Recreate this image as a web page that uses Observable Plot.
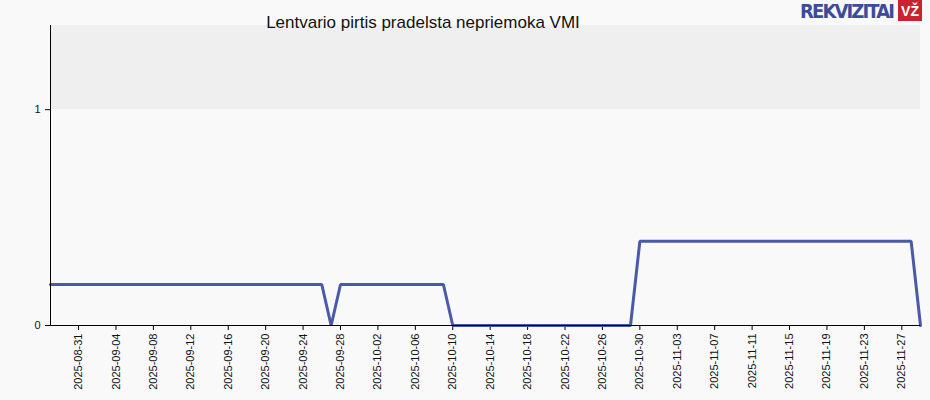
<!DOCTYPE html>
<html>
<head>
<meta charset="utf-8">
<script src="https://cdn.jsdelivr.net/npm/d3@7"></script>
<script src="https://cdn.jsdelivr.net/npm/@observablehq/plot@0.6"></script>
<style>
  html, body { margin: 0; padding: 0; background: #f9f9f9; }
  #wrap { position: relative; width: 930px; height: 400px; font-family: "Liberation Sans", Arial, sans-serif; }
  #title { position: absolute; left: 0; width: 846px; top: 13px; text-align: center; font-size: 17px; color: #111; z-index: 2; white-space: nowrap; }
  #rk { position: absolute; left: 800px; top: 0px; font-family: "Liberation Sans Narrow", "DejaVu Sans Condensed", sans-serif; font-weight: bold; font-size: 20px; line-height: 23px; color: #3b4c9b; white-space: nowrap; z-index: 2; }
  #vz { position: absolute; left: 898px; top: 0px; width: 24px; height: 21px; background: #c8232f; color: #fff; font-weight: bold; font-size: 14px; line-height: 22px; text-align: center; z-index: 2; }
</style>
</head>
<body>
<div id="wrap">
  <div id="title">Lentvario pirtis pradelsta nepriemoka VMI</div>
  <span id="rk">REKVIZITAI</span><span id="vz">VŽ</span>
  <div id="chart"></div>
</div>
<script>
// Data: dates where the line bends, and values
const dates  = ["2025-08-28","2025-09-26","2025-09-27","2025-09-28","2025-10-09","2025-10-10","2025-10-29","2025-10-30","2025-11-28","2025-11-29"];
const values = [0.19, 0.19, 0, 0.19, 0.19, 0, 0, 0.39, 0.39, 0];
const xTickLabels = ["2025-08-31","2025-09-04","2025-09-08","2025-09-12","2025-09-16","2025-09-20","2025-09-24","2025-09-28","2025-10-02","2025-10-06","2025-10-10","2025-10-14","2025-10-18","2025-10-22","2025-10-26","2025-10-30","2025-11-03","2025-11-07","2025-11-11","2025-11-15","2025-11-19","2025-11-23","2025-11-27"];
const yTickValues = [0, 1];
const xDomain = ["2025-08-28", "2025-11-29"];
const yDomain = [0, 1.39];

const parse = d3.utcParse("%Y-%m-%d");
const data = dates.map((d, i) => ({date: parse(d), value: values[i]}));
const x0 = parse(xDomain[0]), x1 = parse(xDomain[1]);

const chart = Plot.plot({
  width: 930,
  height: 400,
  marginLeft: 50,
  marginRight: 10,
  marginTop: 25,
  marginBottom: 75,
  style: {background: "transparent", fontFamily: "Liberation Sans, Arial, sans-serif", fontSize: "11px", color: "#111"},
  x: {type: "utc", domain: [x0, x1], label: null},
  y: {domain: yDomain, label: null},
  marks: [
    Plot.rect([0], {x1: () => x0, x2: () => x1, y1: () => 1, y2: () => yDomain[1], fill: "#efefef"}),
    Plot.axisX({ticks: xTickLabels.map(parse), tickFormat: d3.utcFormat("%Y-%m-%d"), tickRotate: -90, tickSize: 5, tickPadding: 3, fontSize: 11, stroke: "#000", fill: "#111"}),
    Plot.axisY({ticks: yTickValues, tickFormat: d => d3.format("d")(d), tickSize: 5, tickPadding: 5, fontSize: 11, stroke: "#000", fill: "#111"}),
    Plot.line(data, {x: "date", y: "value", stroke: "#4a5aa8", strokeWidth: 3, strokeLinejoin: "miter", curve: "linear"}),
    Plot.ruleX([x0], {stroke: "#000", strokeWidth: 1}),
    Plot.ruleY([0], {stroke: "#000", strokeWidth: 1})
  ]
});
document.getElementById("chart").appendChild(chart);

// fit logo word into its box width via letter-spacing
const rk = document.getElementById("rk");
const w = rk.getBoundingClientRect().width;
rk.style.letterSpacing = `${(93 - w) / 10}px`;
</script>
</body>
</html>
